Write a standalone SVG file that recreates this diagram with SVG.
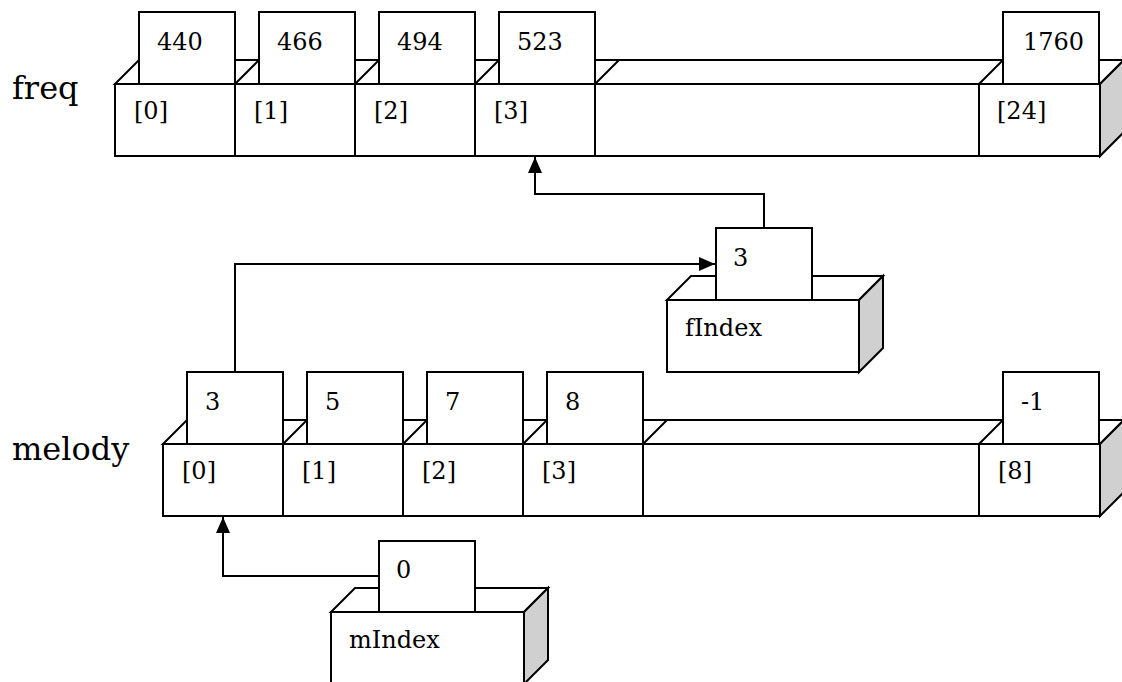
<svg xmlns="http://www.w3.org/2000/svg" width="1122" height="682" viewBox="0 0 1122 682">
<defs>
<style>
.s{fill:#fff;stroke:#000;stroke-width:2;stroke-linejoin:miter}
.g{fill:#d0d0d0;stroke:#000;stroke-width:2}
.l{fill:none;stroke:#000;stroke-width:2}
text{font-family:'DejaVu Serif',serif;fill:#000}
.t{font-size:24px}
.b{font-size:32px}
</style>
<marker id="ah" markerUnits="userSpaceOnUse" markerWidth="16" markerHeight="16" viewBox="0 0 16 16" refX="16" refY="8" orient="auto">
<path d="M0,1 L16,8 L0,15 Z" fill="#000"/>
</marker>
</defs>
<rect width="1122" height="682" fill="#fff"/>

<g id="freq">
<text class="b" x="12" y="99">freq</text>
<polygon class="s" points="115,84 139,60 1124,60 1100,84"/>
<polygon class="g" points="1100,84 1124,60 1124,132 1100,156"/>
<rect class="s" x="115" y="84" width="985" height="72"/>
<path class="l" d="M235,84 V156 M355,84 V156 M475,84 V156 M595,84 V156 M979,84 V156 M235,84 L259,60 M355,84 L379,60 M475,84 L499,60 M595,84 L619,60 M979,84 L1003,60"/>
<rect class="s" x="139" y="12" width="96" height="72"/>
<rect class="s" x="259" y="12" width="96" height="72"/>
<rect class="s" x="379" y="12" width="96" height="72"/>
<rect class="s" x="499" y="12" width="96" height="72"/>
<rect class="s" x="1003" y="12" width="96" height="72"/>
<text class="t" x="157" y="50">440</text>
<text class="t" x="277" y="50">466</text>
<text class="t" x="397" y="50">494</text>
<text class="t" x="517" y="50">523</text>
<text class="t" x="1023" y="50">1760</text>
<text class="t" x="134" y="119">[0]</text>
<text class="t" x="254" y="119">[1]</text>
<text class="t" x="374" y="119">[2]</text>
<text class="t" x="494" y="119">[3]</text>
<text class="t" x="997" y="119">[24]</text>
</g>

<g id="melody">
<text class="b" x="12" y="460">melody</text>
<polygon class="s" points="163,444 187,420 1124,420 1100,444"/>
<polygon class="g" points="1100,444 1124,420 1124,492 1100,516"/>
<rect class="s" x="163" y="444" width="937" height="72"/>
<path class="l" d="M283,444 V516 M403,444 V516 M523,444 V516 M643,444 V516 M979,444 V516 M283,444 L307,420 M403,444 L427,420 M523,444 L547,420 M643,444 L667,420 M979,444 L1003,420"/>
<rect class="s" x="187" y="372" width="96" height="72"/>
<rect class="s" x="307" y="372" width="96" height="72"/>
<rect class="s" x="427" y="372" width="96" height="72"/>
<rect class="s" x="547" y="372" width="96" height="72"/>
<rect class="s" x="1003" y="372" width="96" height="72"/>
<text class="t" x="205" y="410">3</text>
<text class="t" x="325" y="410">5</text>
<text class="t" x="445" y="410">7</text>
<text class="t" x="565" y="410">8</text>
<text class="t" x="1021" y="410">-1</text>
<text class="t" x="182" y="479">[0]</text>
<text class="t" x="302" y="479">[1]</text>
<text class="t" x="422" y="479">[2]</text>
<text class="t" x="542" y="479">[3]</text>
<text class="t" x="998" y="479">[8]</text>
</g>

<g id="fIndex">
<polygon class="s" points="667,300 691,276 883,276 859,300"/>
<polygon class="g" points="859,300 883,276 883,348 859,372"/>
<rect class="s" x="667" y="300" width="192" height="72"/>
<rect class="s" x="716" y="228" width="96" height="72"/>
<text class="t" x="733" y="266">3</text>
<text class="t" x="685" y="336">fIndex</text>
</g>

<g id="mIndex">
<polygon class="s" points="331,612 355,588 548,588 524,612"/>
<polygon class="g" points="524,612 548,588 548,660 524,684"/>
<rect class="s" x="331" y="612" width="193" height="72"/>
<rect class="s" x="379" y="541" width="96" height="71"/>
<text class="t" x="396" y="578">0</text>
<text class="t" x="349" y="648">mIndex</text>
</g>

<g id="connectors">
<path class="l" d="M764,228 V194 H535 V157" marker-end="url(#ah)"/>
<path class="l" d="M235,372 V264 H715" marker-end="url(#ah)"/>
<path class="l" d="M379,576 H223 V517" marker-end="url(#ah)"/>
</g>
</svg>
